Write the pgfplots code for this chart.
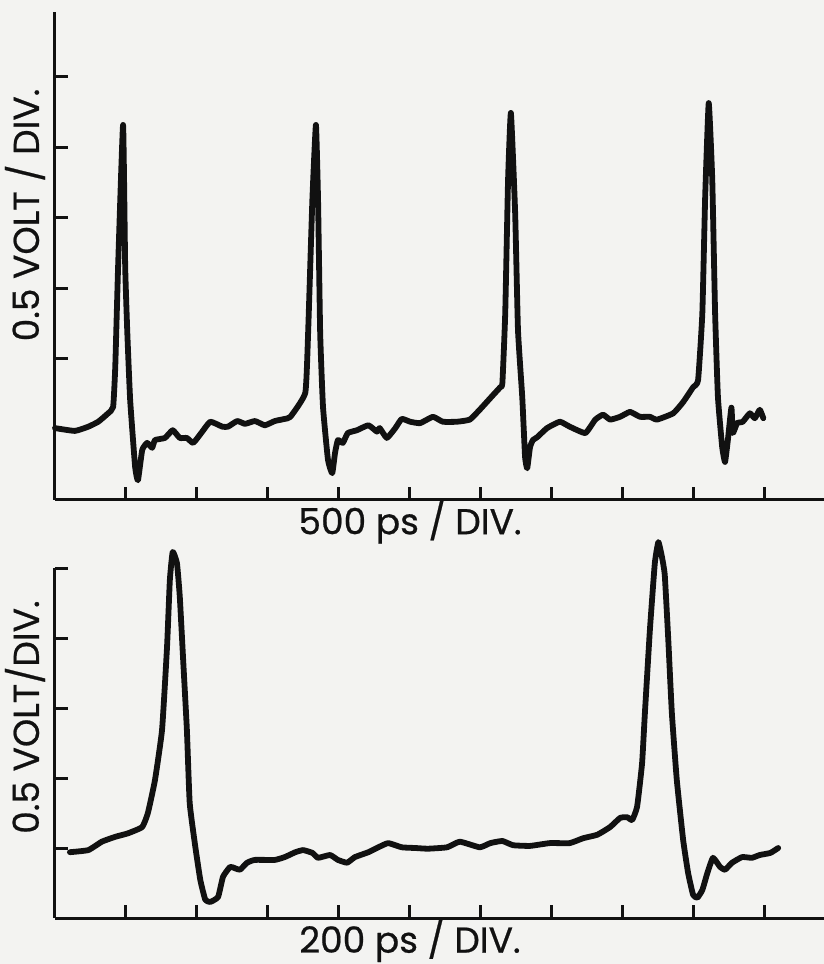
\documentclass[border=0pt]{standalone}
\usepackage{fontspec}
\setmainfont{Poppins}
\usepackage{pgfplots}
\pgfplotsset{compat=1.18}

\definecolor{paper}{RGB}{243,243,241}
\definecolor{ink}{RGB}{17,17,17}

\pgfplotsset{
  scope/.style={
    scale only axis,
    width=384.5pt,
    xmin=0, xmax=10.846,
    ymin=0,
    axis lines*=left,
    axis line style={ink, line width=1.5pt},
    tick align=inside,
    major tick length=6.5pt,
    every tick/.style={ink, line width=1.5pt},
    xtick={1,...,10},
    xticklabels={}, yticklabels={},
    clip=false,
    label style={font=\fontsize{18}{21}\selectfont\addfontfeature{FakeBold=0.6}, text=ink},
  },
  trace/.style={ink, line width=2.9pt, line join=round, line cap=round, mark=none, smooth, tension=0.25},
}

\begin{document}
\begin{tikzpicture}
\fill[paper] (0,0) rectangle (412pt,482pt);
\useasboundingbox (0,0) rectangle (412pt,482pt);

% 500 ps / div
\begin{axis}[scope, at={(27.5pt,232pt)}, anchor=origin,
    height=244pt, ymax=6.922, ytick={1,...,6},
    xlabel={500 ps / DIV.},
    xlabel style={at={(rel axis cs:0.4616,-0.045)}, anchor=center},
    ylabel={0.5 VOLT / DIV.},
    ylabel style={at={(rel axis cs:-0.039,0.584)}, anchor=center}]
\addplot[trace] coordinates {
(0,1.02) (0.28,0.98) (0.47,1.04) (0.61,1.11) (0.75,1.23) (0.82,1.32)
(0.85,1.89) (0.89,3.31) (0.96,5.32) (0.99,3.31) (1.02,2.37) (1.06,1.42)
(1.13,0.47) (1.17,0.28) (1.23,0.71) (1.30,0.81) (1.37,0.74) (1.41,0.85)
(1.55,0.88) (1.66,0.99) (1.76,0.88) (1.86,0.88) (1.95,0.81) (2.07,0.96)
(2.19,1.11) (2.36,1.04) (2.44,1.04) (2.57,1.12) (2.68,1.08) (2.82,1.12)
(2.96,1.06) (3.10,1.12) (3.24,1.15) (3.32,1.18) (3.53,1.52) (3.57,2.37)
(3.63,4.26) (3.68,5.32) (3.71,4.26) (3.74,2.37) (3.78,1.32) (3.85,0.57)
(3.91,0.38) (3.95,0.67) (3.99,0.85) (4.06,0.81) (4.13,0.95) (4.26,0.99)
(4.42,1.06) (4.54,0.97) (4.58,1.02) (4.68,0.88) (4.80,1.02) (4.89,1.15)
(5.01,1.11) (5.15,1.09) (5.33,1.18) (5.47,1.11) (5.67,1.11) (5.85,1.14)
(5.99,1.28) (6.18,1.49) (6.28,1.60) (6.31,1.66) (6.35,2.65) (6.39,4.54)
(6.43,5.49) (6.49,4.07) (6.53,2.41) (6.59,1.46) (6.63,0.61) (6.66,0.45)
(6.70,0.75) (6.74,0.85) (6.80,0.89) (6.94,1.02) (7.12,1.11) (7.26,1.04)
(7.48,0.95) (7.62,1.14) (7.73,1.21) (7.83,1.14) (7.97,1.18) (8.11,1.25)
(8.25,1.18) (8.39,1.18) (8.49,1.14) (8.72,1.23) (8.86,1.39) (9.00,1.60)
(9.07,1.70) (9.13,2.65) (9.17,4.30) (9.22,5.63) (9.27,4.54) (9.31,2.65)
(9.35,1.46) (9.41,0.75) (9.45,0.54) (9.49,0.85) (9.54,1.31) (9.56,0.95)
(9.62,1.09) (9.70,1.11) (9.80,1.23) (9.87,1.16) (9.94,1.28) (9.99,1.16)
};
\end{axis}

% 200 ps / div
\begin{axis}[scope, at={(27.5pt,23pt)}, anchor=origin,
    height=175pt, ymax=5, ytick={1,...,5},
    xlabel={200 ps / DIV.},
    xlabel style={at={(rel axis cs:0.4616,-0.064)}, anchor=center},
    ylabel={0.5 VOLT/DIV.},
    ylabel style={at={(rel axis cs:-0.039,0.574)}, anchor=center}]
\addplot[trace] coordinates {
(0.21,0.94) (0.47,0.97) (0.66,1.09) (0.85,1.16) (1.03,1.21) (1.23,1.30)
(1.31,1.50) (1.41,1.97) (1.51,2.69) (1.58,3.87) (1.62,4.83) (1.66,5.23)
(1.72,5.07) (1.76,4.59) (1.81,3.64) (1.86,2.69) (1.90,1.64) (1.98,1.01)
(2.05,0.54) (2.12,0.26) (2.19,0.23) (2.30,0.30) (2.37,0.59) (2.47,0.73)
(2.54,0.71) (2.61,0.69) (2.71,0.79) (2.82,0.83) (3.10,0.83) (3.24,0.87)
(3.39,0.94) (3.50,0.97) (3.63,0.93) (3.71,0.86) (3.88,0.90) (3.99,0.83)
(4.12,0.79) (4.23,0.87) (4.42,0.94) (4.56,1.01) (4.70,1.07) (4.89,1.01)
(5.08,1.00) (5.26,0.99) (5.53,1.01) (5.71,1.09) (5.99,1.01) (6.14,1.07)
(6.31,1.10) (6.46,1.04) (6.70,1.03) (6.98,1.07) (7.26,1.07) (7.45,1.14)
(7.65,1.19) (7.83,1.30) (7.97,1.43) (8.07,1.44) (8.14,1.40) (8.21,1.59)
(8.28,2.21) (8.32,2.93) (8.39,4.11) (8.46,5.07) (8.51,5.37) (8.56,5.16)
(8.60,4.90) (8.65,3.97) (8.70,2.93) (8.77,1.97) (8.86,1.11) (8.93,0.64)
(9.00,0.33) (9.06,0.29) (9.13,0.40) (9.20,0.64) (9.28,0.86) (9.38,0.73)
(9.45,0.69) (9.55,0.79) (9.69,0.87) (9.83,0.86) (9.94,0.90) (10.09,0.93)
(10.20,1.00)
};
\end{axis}
\end{tikzpicture}
\end{document}
